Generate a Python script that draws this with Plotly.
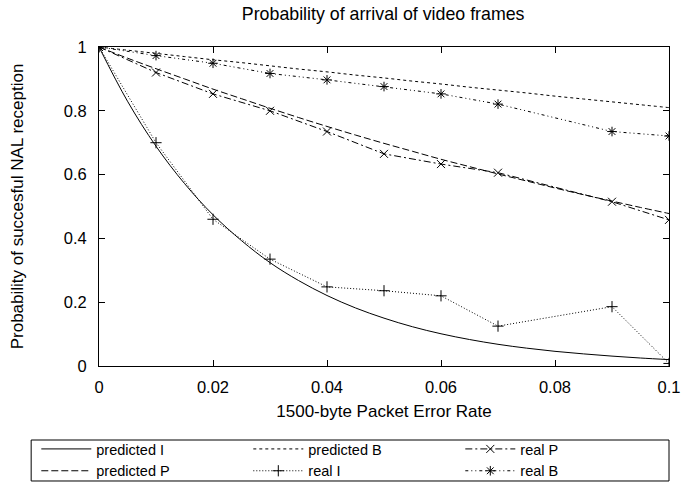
import plotly.graph_objects as go

# ---- data ----
pred_x = [0, 0.005, 0.01, 0.015, 0.02, 0.025, 0.03, 0.035, 0.04, 0.045, 0.05,
          0.055, 0.06, 0.065, 0.07, 0.075, 0.08, 0.085, 0.09, 0.095, 0.1]
pred_I = [1.0, 0.83, 0.689, 0.572, 0.474, 0.393, 0.324, 0.268, 0.221, 0.182, 0.150,
          0.123, 0.101, 0.083, 0.068, 0.056, 0.046, 0.038, 0.031, 0.025, 0.020]
pred_P = [1.0, 0.965, 0.932, 0.900, 0.868, 0.838, 0.808, 0.779, 0.751, 0.724, 0.698,
          0.673, 0.648, 0.625, 0.602, 0.580, 0.558, 0.537, 0.517, 0.497, 0.478]
pred_B = [1.0, 0.990, 0.980, 0.970, 0.960, 0.951, 0.941, 0.931, 0.922, 0.912, 0.903,
          0.893, 0.884, 0.874, 0.865, 0.856, 0.846, 0.837, 0.828, 0.819, 0.810]

real_x = [0, 0.01, 0.02, 0.03, 0.04, 0.05, 0.06, 0.07, 0.09, 0.1]
real_I = [1.0, 0.70, 0.46, 0.335, 0.248, 0.236, 0.22, 0.125, 0.186, 0.008]
real_P = [1.0, 0.92, 0.853, 0.80, 0.735, 0.665, 0.633, 0.606, 0.515, 0.458]
real_B = [1.0, 0.973, 0.949, 0.917, 0.897, 0.876, 0.853, 0.821, 0.735, 0.721]

x_ticks = [0, 0.02, 0.04, 0.06, 0.08, 0.1]
x_tick_labels = ["0", "0.02", "0.04", "0.06", "0.08", "0.1"]
y_ticks = [0, 0.2, 0.4, 0.6, 0.8, 1]
y_tick_labels = ["0", "0.2", "0.4", "0.6", "0.8", "1"]

FONT = "Liberation Sans, Arial, Helvetica, sans-serif"

fig = go.Figure()

def add(name, x, y, dash, rank, marker=None):
    kw = dict(mode="lines")
    if marker:
        kw = dict(mode="lines+markers",
                  marker=dict(symbol=marker, size=8, color="black",
                              line=dict(color="black", width=1)))
    fig.add_trace(go.Scatter(x=x, y=y, name=name, legendrank=rank,
                             line=dict(color="black", width=1, dash=dash,
                                       shape="spline" if marker is None else "linear"),
                             **kw))

add("predicted I", pred_x, pred_I, "solid", 1)
add("predicted P", pred_x, pred_P, "7px,3px", 4)
add("predicted B", pred_x, pred_B, "3px,3px", 2)
add("real I", real_x, real_I, "1px,2px", 5, "cross-thin-open")
add("real P", real_x, real_P, "7px,3px,2px,3px", 3, "x-thin-open")
add("real B", real_x, real_B, "3px,3px,1px,3px,1px,3px", 6, "asterisk-open")

axis_common = dict(showgrid=False, zeroline=False, showline=True, linecolor="black",
                   linewidth=1, mirror="ticks", ticks="inside", ticklen=6,
                   tickcolor="black", tickwidth=1, automargin=False,
                   tickfont=dict(family=FONT, size=16.5, color="black"))

# frame around the legend (gnuplot-style key box)
fig.add_shape(type="rect", xref="paper", yref="paper",
              x0=-0.119, x1=1.0, y0=-0.3605, y1=-0.232,
              line=dict(color="black", width=1), fillcolor="rgba(0,0,0,0)", layer="above")

fig.update_layout(
    width=683, height=485,
    paper_bgcolor="white", plot_bgcolor="white",
    margin=dict(l=99, r=14, t=47, b=119, autoexpand=False),
    font=dict(family=FONT, size=16.5, color="black"),
    title=dict(text="Probability of arrival of video frames", x=0.561, xanchor="center",
               y=0.985, yanchor="top", font=dict(family=FONT, size=17.8, color="black")),
    xaxis=dict(range=[0, 0.1], tickvals=x_ticks, ticktext=x_tick_labels,
               ticklabelstandoff=6,
               title=dict(text="1500-byte Packet Error Rate", standoff=10,
                          font=dict(family=FONT, size=17, color="black")),
               **axis_common),
    yaxis=dict(range=[0, 1], tickvals=y_ticks, ticktext=y_tick_labels,
               ticklabelstandoff=8,
               title=dict(text="Probability of succesful NAL reception", standoff=35,
                          font=dict(family=FONT, size=17, color="black")),
               **axis_common),
    legend=dict(orientation="h", x=-0.11, y=-0.21, xanchor="left", yanchor="top",
                entrywidth=147, entrywidthmode="pixels", itemwidth=50,
                borderwidth=0, bgcolor="rgba(0,0,0,0)",
                traceorder="normal", tracegroupgap=0,
                font=dict(family=FONT, size=14.5, color="black")),
    showlegend=True,
)

fig.write_html("out.html", config={"displayModeBar": False},
               post_script="document.body.style.margin='0';document.body.style.overflow='hidden';")
